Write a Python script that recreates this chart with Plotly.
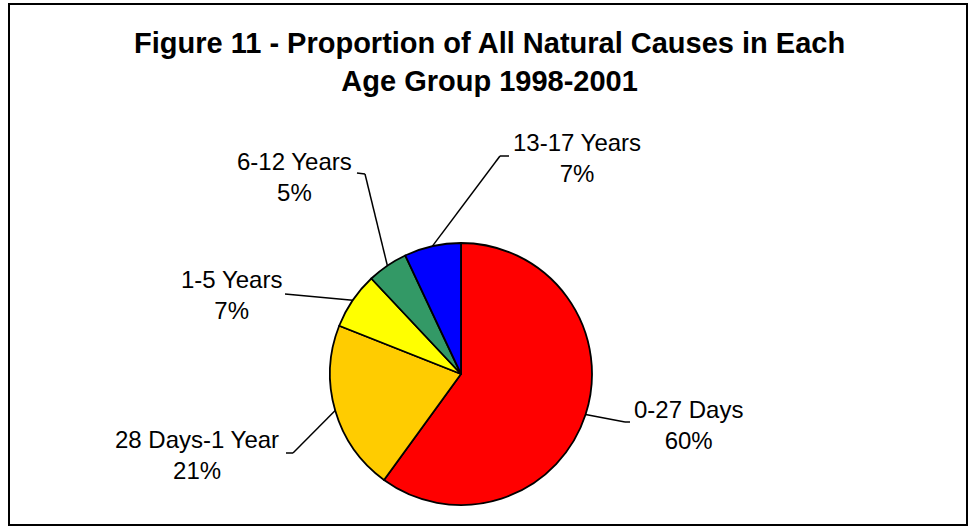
import math
import plotly.graph_objects as go

W, H = 969, 529

labels = ["0-27 Days", "28 Days-1 Year", "1-5 Years", "6-12 Years", "13-17 Years"]
values = [60, 21, 7, 5, 7]
colors = ["#FF0000", "#FFCC00", "#FFFF00", "#339966", "#0000FF"]

# label layout (pixels): text block centre, elbow of the leader, end of the stub
label_pos = [(688, 425), (197, 455), (231, 295), (294, 177), (577, 158)]
elbow_pos = [(625, 422), (293, 453), (285, 294), (365, 174), (500, 156)]
stub_end = [(630, 422), (286, 453), (285, 294), (357, 173), (509, 156)]

cx, cy, r = 461, 374, 131


def px(x):
    return x / W


def py(y):
    return 1 - y / H


fig = go.Figure(go.Pie(
    labels=labels,
    values=values,
    sort=False,
    direction="clockwise",
    rotation=0,
    textinfo="none",
    hoverinfo="label+percent",
    marker=dict(colors=colors, line=dict(color="black", width=1.8)),
    domain=dict(x=[px(cx - r), px(cx + r)], y=[py(cy + r), py(cy - r)]),
    showlegend=False,
))

total = sum(values)
shapes = []
annotations = []
cum = 0
for lab, v, lp, el, st in zip(labels, values, label_pos, elbow_pos, stub_end):
    mid = (cum + v / 2) / total * 2 * math.pi
    cum += v
    ex = cx + r * math.sin(mid)
    ey = cy - r * math.cos(mid)
    for (x0, y0), (x1, y1) in [((ex, ey), el), (el, st)]:
        if (x0, y0) == (x1, y1):
            continue
        shapes.append(dict(type="line", xref="paper", yref="paper",
                           x0=px(x0), y0=py(y0), x1=px(x1), y1=py(y1),
                           line=dict(color="black", width=1.5)))
    pct = round(v / total * 100)
    annotations.append(dict(
        x=px(lp[0]), y=py(lp[1]), xref="paper", yref="paper",
        text=f"{lab}<br>{pct}%", showarrow=False,
        xanchor="center", yanchor="middle",
        font=dict(family="Liberation Sans, Arial", size=24, color="black"),
    ))

annotations.append(dict(
    x=px(489), y=py(62), xref="paper", yref="paper",
    text="<b>Figure 11 - Proportion of All Natural Causes in Each<br>Age Group 1998-2001</b>",
    showarrow=False, xanchor="center", yanchor="middle",
    font=dict(family="Liberation Sans, Arial", size=29, color="black"),
))

# chart frame
shapes.append(dict(type="rect", xref="paper", yref="paper",
                   x0=px(9), y0=py(525), x1=px(967), y1=py(4),
                   line=dict(color="black", width=2)))

fig.update_layout(
    width=W, height=H,
    margin=dict(l=0, r=0, t=0, b=0),
    paper_bgcolor="white",
    plot_bgcolor="white",
    shapes=shapes,
    annotations=annotations,
)

fig.write_html("out.html", config={"displayModeBar": False},
               post_script="document.body.style.margin='0';")
